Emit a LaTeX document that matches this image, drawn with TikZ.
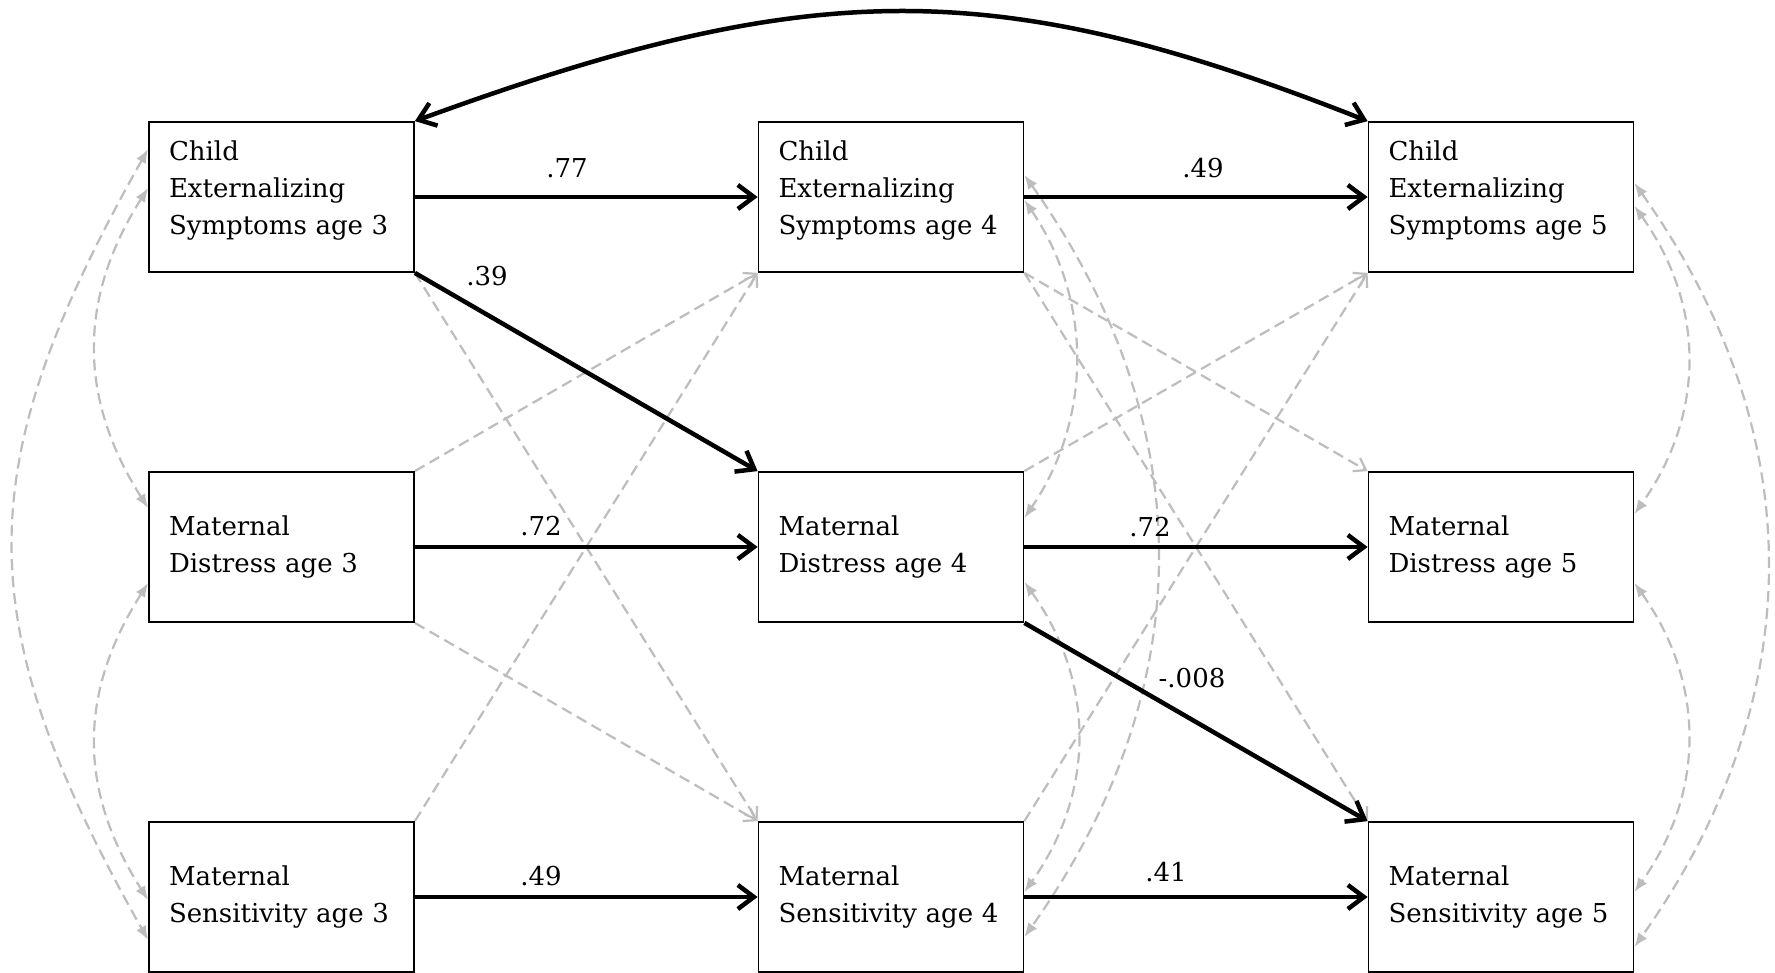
\documentclass[tikz,border=0pt]{standalone}
\usepackage{fontspec}
\setmainfont{DejaVu Serif}
\usetikzlibrary{arrows.meta}
\definecolor{lgray}{HTML}{BDBDBD}
\tikzset{
  box/.style={draw=black, fill=white, line width=1.8pt, minimum width=265pt, minimum height=150pt,
    text width=225pt, inner xsep=20pt, inner ysep=0pt, align=left,
    font=\fontsize{26pt}{37pt}\selectfont},
  topbox/.style={box, text depth=92pt},
  blk/.style={line width=4.5pt, -{Straight Barb[length=16pt,width=24pt]}},
  lag/.style={draw=lgray, line width=2.2pt, dash pattern=on 11pt off 6pt,
    -{Straight Barb[length=11pt,width=15pt]}},
  cor/.style={draw=lgray, line width=2.2pt, dash pattern=on 11pt off 6pt,
    {Latex[length=14pt,width=11pt]}-{Latex[length=14pt,width=11pt]}},
  lbl/.style={font=\fontsize{26pt}{30pt}\selectfont, anchor=base, inner sep=0pt},
}
\begin{document}
\begin{tikzpicture}[x=1pt,y=-1pt]
\useasboundingbox[fill=white] (0,0) rectangle (1775,972);
% boxes
\node[topbox] (A3) at (281.5,197) {Child\\Externalizing\\Symptoms age 3};
\node[topbox] (A4) at (891,197) {Child\\Externalizing\\Symptoms age 4};
\node[topbox] (A5) at (1501,197) {Child\\Externalizing\\Symptoms age 5};
\node[box] (B3) at (281.5,547) {Maternal\\Distress age 3};
\node[box] (B4) at (891,547) {Maternal\\Distress age 4};
\node[box] (B5) at (1501,547) {Maternal\\Distress age 5};
\node[box] (C3) at (281.5,897) {Maternal\\Sensitivity age 3};
\node[box] (C4) at (891,897) {Maternal\\Sensitivity age 4};
\node[box] (C5) at (1501,897) {Maternal\\Sensitivity age 5};
% gray cross-lagged paths
\draw[lag] (A3.south east) -- (C4.north west);
\draw[lag] (B3.north east) -- (A4.south west);
\draw[lag] (B3.south east) -- (C4.north west);
\draw[lag] (C3.north east) -- (A4.south west);
\draw[lag] (A4.south east) -- (B5.north west);
\draw[lag] (A4.south east) -- (C5.north west);
\draw[lag] (B4.north east) -- (A5.south west);
\draw[lag] (C4.north east) -- (A5.south west);
% gray correlations, left
\draw[cor] ([yshift=48pt]A3.west) .. controls +(-180,320) and +(-180,-320) .. ([yshift=-43pt]C3.west);
\draw[cor] ([yshift=9pt]A3.west) .. controls +(-70,110) and +(-70,-110) .. ([yshift=39pt]B3.west);
\draw[cor] ([yshift=-36pt]B3.west) .. controls +(-70,110) and +(-70,-110) .. ([yshift=-3pt]C3.west);
% gray correlations, wave 4
\draw[cor] ([yshift=-3pt]A4.east) .. controls +(68,100) and +(68,-100) .. ([yshift=29pt]B4.east);
\draw[cor] ([yshift=22pt]A4.east) .. controls +(177,250) and +(177,-250) .. ([yshift=-40pt]C4.east);
\draw[cor] ([yshift=-35pt]B4.east) .. controls +(71,100) and +(71,-100) .. ([yshift=5pt]C4.east);
% gray correlations, wave 5
\draw[cor] ([yshift=14pt]A5.east) .. controls +(177,250) and +(177,-250) .. ([yshift=-50pt]C5.east);
\draw[cor] ([yshift=-9pt]A5.east) .. controls +(71,100) and +(71,-100) .. ([yshift=33pt]B5.east);
\draw[cor] ([yshift=-36pt]B5.east) .. controls +(71,100) and +(71,-100) .. ([yshift=5pt]C5.east);
% black paths
\draw[blk] (A3) -- (A4);
\draw[blk] (A4) -- (A5);
\draw[blk] (A3.south east) -- (B4.north west);
\draw[blk] (B3) -- (B4);
\draw[blk] (B4) -- (B5);
\draw[blk] (B4.south east) -- (C5.north west);
\draw[blk] (C3) -- (C4);
\draw[blk] (C4) -- (C5);
\draw[line width=4.5pt, {Straight Barb[length=16pt,width=24pt]}-{Straight Barb[length=16pt,width=24pt]}]
  (A3.north east) .. controls (815,-25) and (997,-25) .. (A5.north west);
% labels
\node[lbl] (l77) at (567,177) {.77};
\node[lbl] (l39) at (487,285) {.39};
\node[lbl] (l49a) at (1203,177) {.49};
\node[lbl] (l72a) at (541,535) {.72};
\node[lbl] (l72b) at (1150,536) {.72};
\node[lbl] (l008) at (1192,687) {-.008};
\node[lbl] (l49b) at (541,885) {.49};
\node[lbl] (l41) at (1166,881) {.41};
\end{tikzpicture}
\end{document}
